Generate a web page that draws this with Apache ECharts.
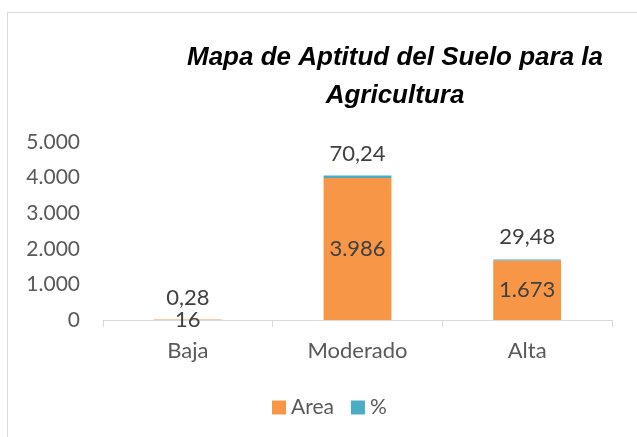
<!DOCTYPE html>
<html><head><meta charset="utf-8">
<script src="https://cdn.jsdelivr.net/npm/echarts@6/dist/echarts.min.js"></script>
<style>html,body{margin:0;padding:0;background:#fff}#c{width:637px;height:437px}</style>
</head><body><div id="c"></div>
<script>
const categories = ['Baja', 'Moderado', 'Alta'];
const areaValues = [16, 3986, 1673];
const pctValues = [0.28, 70.24, 29.48];
const yTicks = [0, 1000, 2000, 3000, 4000, 5000];

function fmtThousands(v) {
  return String(Math.round(v)).replace(/\B(?=(\d{3})+(?!\d))/g, '.');
}
function fmtPct(v) {
  return v.toFixed(2).replace('.', ',');
}
const FONT = 'Lato';
const chart = echarts.init(document.getElementById('c'), null, {renderer: 'canvas'});
chart.setOption({
  animation: false,
  graphic: [
    {type: 'rect', shape: {x: 7.5, y: 12.5, width: 700, height: 500}, style: {fill: 'none', stroke: '#d9d9d9', lineWidth: 1}, z: -1},
    {type: 'text', x: 395, y: 39, style: {text: 'Mapa de Aptitud del Suelo para la\nAgricultura', font: 'italic bold 26px "Liberation Sans", Arial', fill: '#000', align: 'center', lineHeight: 38}}
  ],
  legend: {
    left: 267, top: 392, itemWidth: 14, itemHeight: 14, itemGap: 17,
    icon: 'rect',
    textStyle: {fontFamily: FONT, fontSize: 21, color: '#595959'},
    data: ['Area', '%']
  },
  grid: {left: 103, right: 25, top: 142, bottom: 117, containLabel: false},
  xAxis: {
    type: 'category', data: categories,
    axisLine: {lineStyle: {color: '#d9d9d9', width: 1}},
    axisTick: {show: true, length: 7, lineStyle: {color: '#d9d9d9'}},
    axisLabel: {fontFamily: FONT, fontSize: 22, color: '#595959', margin: 20}
  },
  yAxis: {
    type: 'value', min: 0, max: 5000, interval: 1000,
    axisLine: {show: false}, axisTick: {show: false},
    splitLine: {show: false},
    axisLabel: {fontFamily: FONT, fontSize: 21, color: '#595959', margin: 23,
      formatter: v => yTicks.includes(v) ? fmtThousands(v) : ''}
  },
  series: [
    {name: 'Area', type: 'bar', stack: 's', data: areaValues, barWidth: '40%',
      itemStyle: {color: '#F79646'},
      label: {show: true, position: 'inside', fontFamily: FONT, fontSize: 22, color: '#404040',
        formatter: p => fmtThousands(p.value)}},
    {name: '%', type: 'bar', stack: 's', data: pctValues, barWidth: '40%',
      itemStyle: {color: '#4BACC6'},
      label: {show: true, position: 'top', distance: 11, fontFamily: FONT, fontSize: 22, color: '#404040',
        formatter: p => fmtPct(p.value)}}
  ]
});
</script></body></html>
